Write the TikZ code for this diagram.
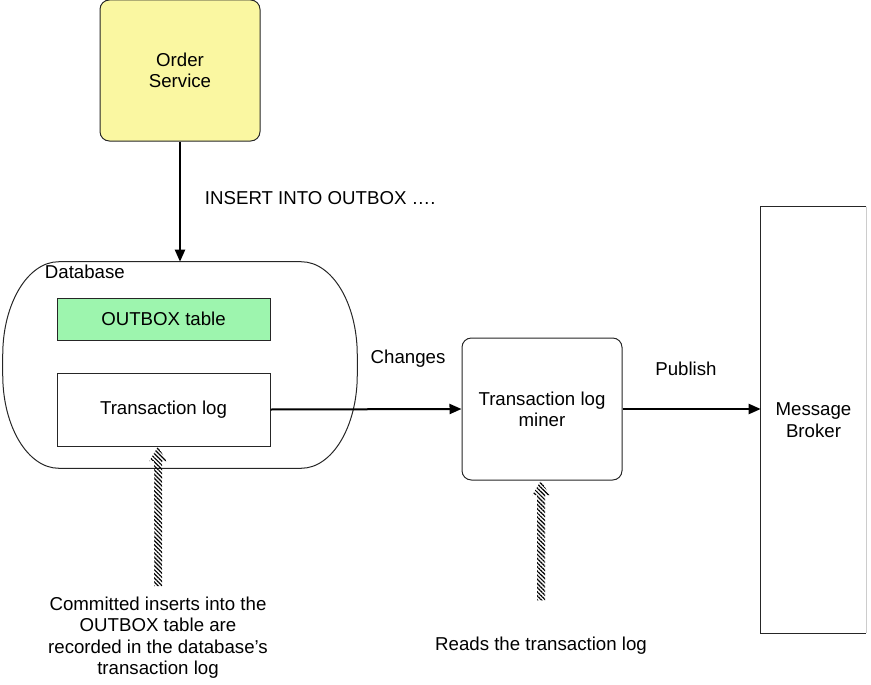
\documentclass[tikz,border=0pt]{standalone}
\usepackage{fontspec}
\setmainfont{Liberation Sans}
\usetikzlibrary{arrows.meta,calc,patterns.meta}
\definecolor{cOrder}{HTML}{FAF7A1}
\definecolor{cTable}{HTML}{9DF5AE}
\definecolor{cInk}{HTML}{262626}
\tikzset{
  outbox/.style={font=\fontsize{14}{16}\selectfont, every node/.style={align=center}},
  box/.style={draw=cInk, line width=0.75pt, fill=white, inner sep=2pt},
  svc/.style={box, rounded corners=7pt, fill=cOrder},
  miner/.style={box, rounded corners=7pt},
  tbl/.style={box, fill=cTable},
  lbl/.style={inner sep=2pt},
  flow/.style={draw=black, line width=1.5pt, -{Stealth[length=9pt, width=7.5pt, inset=0pt]}},
  hatch/.style={pattern={Lines[angle=-45, distance=2.2pt, line width=0.9pt]}},
}
% hatched block arrow from #1 (tail) up to #2 (tip)
\newcommand{\hatcharrow}[2]{%
  \fill[hatch] let \p1=(#1), \p2=(#2) in
    (\x1-3pt,\y1) -- (\x1-3pt,\y2-11pt) -- (\x1-6.5pt,\y2-11pt) -- (\x1,\y2)
    -- (\x1+6.5pt,\y2-11pt) -- (\x1+3pt,\y2-11pt) -- (\x1+3pt,\y1) -- cycle;}

\begin{document}
\begin{tikzpicture}[outbox, x=0.75pt, y=-0.75pt]
\useasboundingbox (0,0) rectangle (871,685);
% pixel grid of the original: x right, y down

% services and stores
\node[svc, minimum width=120pt, minimum height=105.75pt] (order) at (180,70.5) {Order\\Service};
\node[minimum width=265.5pt, minimum height=154.5pt, inner sep=0pt] (db) at (180,365) {};
% database outline: flat top and bottom, deep elliptic sides
\draw[cInk, line width=0.75pt] let \p1=(db.north west), \p2=(db.south east) in
  (\x1+42pt,\y1) -- (\x2-42pt,\y1) arc[start angle=90, end angle=0, x radius=42pt, y radius=70pt]
  -- (\x2,\y2+70pt) arc[start angle=0, end angle=-90, x radius=42pt, y radius=70pt]
  -- (\x1+42pt,\y2) arc[start angle=270, end angle=180, x radius=42pt, y radius=70pt]
  -- (\x1,\y1-70pt) arc[start angle=180, end angle=90, x radius=42pt, y radius=70pt] -- cycle;
\node[lbl, anchor=north west] (dblabel) at (42,262) {Database};
\node[tbl, minimum width=159.75pt, minimum height=31.5pt] (outboxtbl) at (163.5,319) {OUTBOX table};
\node[box, minimum width=159.75pt, minimum height=54.75pt] (txlog) at (163.5,409.5) {Transaction log};
\node[miner, minimum width=120pt, minimum height=106.5pt] (miner) at (542,409) {Transaction log\\miner};
\node[minimum width=78.75pt, minimum height=319.5pt, inner sep=0pt] (broker) at (813.5,420) {Message\\Broker};
\draw[cInk, line width=0.75pt] (broker.north east) -- (broker.north west) -- (broker.south west) -- (broker.south east);
\draw[black!20, line width=0.75pt] (broker.north east) -- (broker.south east);

% labels
\node[lbl, anchor=west] (insert) at (202,198) {INSERT INTO OUTBOX ….};
\node[lbl] (changes) at (408,359) {Changes};
\node[lbl] (publish) at (686,369) {Publish};
\node[lbl, anchor=north] (note1) at (158,594) {Committed inserts into the\\OUTBOX table are\\recorded in the database’s\\transaction log};
\node[lbl] (note2) at (541,646) {Reads the transaction log};

% flows
\draw[flow] (order.south) -- (db.north);
\draw[flow] (txlog.east) -- (miner.west);
\draw[flow] (miner.east) -- (miner.east -| broker.west);

% hatched pointers
\hatcharrow{$(note1.north)+(0,-8)$}{txlog.south}
\hatcharrow{$(note2.north)+(0,-34)$}{miner.south}
\end{tikzpicture}
\end{document}
